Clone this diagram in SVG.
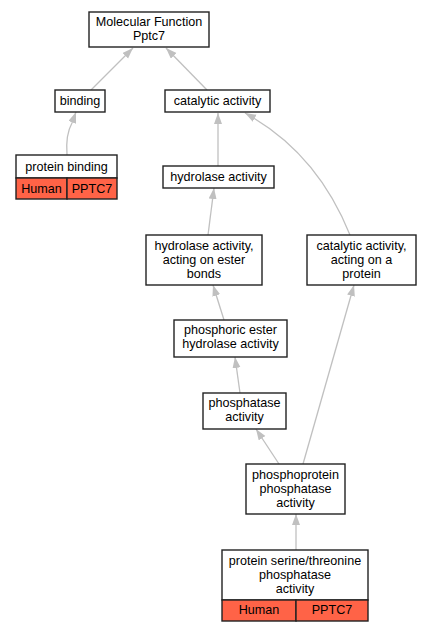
<svg xmlns="http://www.w3.org/2000/svg" width="431" height="632" viewBox="0 0 431 632">
<defs>
<marker id="ah" markerUnits="userSpaceOnUse" markerWidth="12" markerHeight="10" refX="11" refY="4" orient="auto">
<path d="M0,0 L11,4 L0,8 z" fill="#c0c0c0"/>
</marker>
<style>
.n{fill:#fff;stroke:#222;stroke-width:1.4}
.r{fill:#ff6347;stroke:#222;stroke-width:1.4}
text{font-family:"Liberation Sans",Arial,sans-serif;font-size:12.6px;fill:#000;text-anchor:middle}
.e{fill:none;stroke:#c0c0c0;stroke-width:1.3;marker-end:url(#ah)}
</style>
</defs>
<rect width="431" height="632" fill="#fff"/>
<g id="edges">
<path class="e" d="M91,90 L133,48"/>
<path class="e" d="M207,90 L166,48"/>
<path class="e" d="M67,155 C66,142 68,130 72,123 L76,112"/>
<path class="e" d="M218,166 L218,113"/>
<path class="e" d="M350,235 C332,190 300,143 245,113"/>
<path class="e" d="M208,235 L214,188"/>
<path class="e" d="M224,320 L213,285"/>
<path class="e" d="M240,393 L235,357"/>
<path class="e" d="M279,464 L256,429"/>
<path class="e" d="M303,464 L354,285"/>
<path class="e" d="M296,550 L296,514"/>
</g>
<g id="mf"><rect class="n" x="89" y="12" width="120" height="35"/><text x="149" y="25.5">Molecular Function</text><text x="149" y="39.7">Pptc7</text></g>
<g id="binding"><rect class="n" x="55" y="90" width="50" height="22"/><text x="80" y="105">binding</text></g>
<g id="catalytic"><rect class="n" x="165" y="90" width="105" height="22"/><text x="217.5" y="105">catalytic activity</text></g>
<g id="protein_binding"><rect class="n" x="16" y="155" width="101" height="23"/><text x="66.5" y="171">protein binding</text><rect class="r" x="16" y="178" width="51" height="21"/><rect class="r" x="67" y="178" width="50" height="21"/><text x="41.5" y="193">Human</text><text x="92" y="193">PPTC7</text></g>
<g id="hydrolase"><rect class="n" x="163" y="166" width="111" height="22"/><text x="218.5" y="181">hydrolase activity</text></g>
<g id="ester"><rect class="n" x="146" y="235" width="116" height="50"/><text x="204" y="250">hydrolase activity,</text><text x="204" y="264.2">acting on ester</text><text x="204" y="278.4">bonds</text></g>
<g id="cat_protein"><rect class="n" x="307" y="235" width="109" height="50"/><text x="361.5" y="250">catalytic activity,</text><text x="361.5" y="264.2">acting on a</text><text x="361.5" y="278.4">protein</text></g>
<g id="phosphoric"><rect class="n" x="174" y="320" width="113" height="37"/><text x="230.5" y="334">phosphoric ester</text><text x="230.5" y="348.2">hydrolase activity</text></g>
<g id="phosphatase"><rect class="n" x="203" y="393" width="83" height="36"/><text x="244.5" y="407">phosphatase</text><text x="244.5" y="421.2">activity</text></g>
<g id="phosphoprotein"><rect class="n" x="246" y="464" width="99" height="50"/><text x="295.5" y="479">phosphoprotein</text><text x="295.5" y="493.2">phosphatase</text><text x="295.5" y="507.4">activity</text></g>
<g id="serine"><rect class="n" x="222" y="550" width="146" height="50"/><text x="295" y="565">protein serine/threonine</text><text x="295" y="579.2">phosphatase</text><text x="295" y="593.4">activity</text><rect class="r" x="222" y="600" width="74" height="21"/><rect class="r" x="296" y="600" width="72" height="21"/><text x="259" y="614">Human</text><text x="332" y="614">PPTC7</text></g>
</svg>
